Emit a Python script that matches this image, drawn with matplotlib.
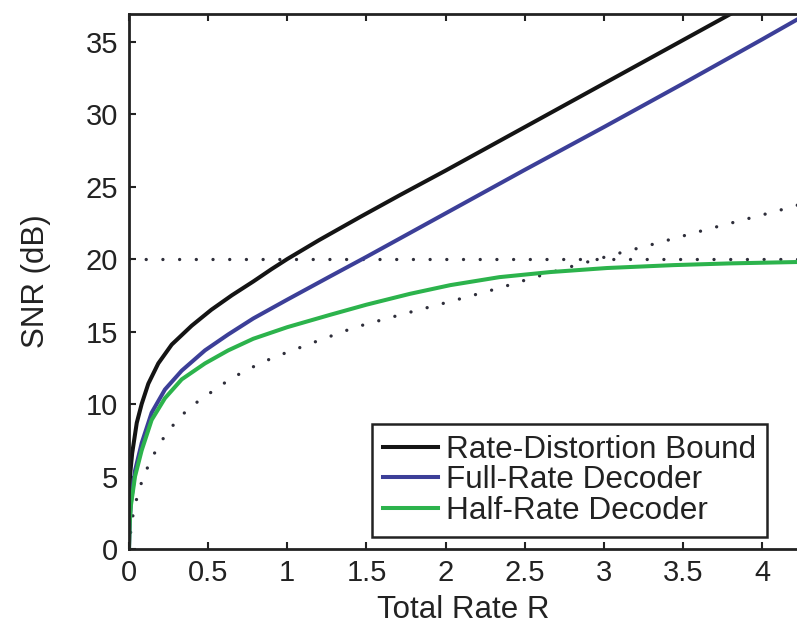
import numpy as np
import matplotlib.pyplot as plt

# values
R_bound = [0, 0.003, 0.006, 0.02, 0.049, 0.08, 0.122, 0.185, 0.27, 0.396, 0.52, 0.65,
           0.785, 0.9, 1.0, 1.2, 1.46, 1.71, 2.0, 2.5, 3.0, 3.5, 3.85]
snr_bound = [0, 3.2, 5.0, 6.6, 8.7, 10.0, 11.4, 12.8, 14.1, 15.4, 16.5, 17.5,
             18.45, 19.3, 20.0, 21.3, 22.9, 24.4, 26.1, 29.1, 32.1, 35.1, 37.2]

R_full = [0, 0.004, 0.012, 0.038, 0.08, 0.143, 0.227, 0.333, 0.48, 0.627, 0.785, 1.0,
          1.27, 1.5, 1.775, 2.0, 2.5, 3.0, 3.5, 4.0, 4.25]
snr_full = [0, 1.8, 3.2, 5.4, 7.3, 9.4, 11.0, 12.3, 13.7, 14.8, 15.9, 17.2,
            18.8, 20.15, 21.8, 23.15, 26.15, 29.1, 32.1, 35.15, 36.7]

R_half = [0, 0.004, 0.012, 0.038, 0.08, 0.143, 0.227, 0.333, 0.48, 0.627, 0.785, 1.0,
          1.27, 1.5, 1.775, 2.03, 2.34, 2.66, 3.02, 3.44, 3.8, 4.25]
snr_half = [0, 1.7, 3.0, 5.0, 6.8, 8.9, 10.4, 11.7, 12.8, 13.7, 14.5, 15.3,
            16.15, 16.85, 17.6, 18.2, 18.75, 19.1, 19.38, 19.58, 19.7, 19.8]

R_dot = [0, 0.017, 0.038, 0.063, 0.10, 0.143, 0.196, 0.253, 0.322, 0.40, 0.485, 0.575,
         0.66, 0.754, 0.838, 0.933, 1.034, 1.129, 1.43, 1.73, 2.04, 2.34, 2.55, 2.8,
         3.06, 3.27, 3.47, 3.67, 3.88, 4.09, 4.25]
snr_dot = [0, 1.9, 3.0, 4.1, 5.2, 6.25, 7.3, 8.2, 9.1, 9.9, 10.55, 11.25,
           11.85, 12.4, 12.85, 13.3, 13.7, 14.1, 15.3, 16.2, 17.1, 18.0, 18.7, 19.5,
           20.3, 20.9, 21.5, 22.1, 22.7, 23.3, 23.8]

snr_target = 20
labels = ['Rate-Distortion Bound', 'Full-Rate Decoder', 'Half-Rate Decoder']

plt.rcParams['font.family'] = ['Liberation Sans', 'DejaVu Sans']

fig = plt.figure(figsize=(7.97, 6.29), dpi=100)
ax = fig.add_axes([129/797, 80/629, 1 - 129/797, (549 - 14)/629])

dots = dict(color='#2e2e3a', lw=2.4, linestyle=(0, (0.01, 5.0)),
            dash_capstyle='round')
ax.axhline(snr_target, **dots)
ax.plot(R_dot, snr_dot, **dots)

ax.plot(R_bound, snr_bound, color='#141414', lw=2.9, label=labels[0])
ax.plot(R_full, snr_full, color='#3c3f98', lw=2.9, label=labels[1])
ax.plot(R_half, snr_half, color='#2cb34c', lw=2.9, label=labels[2])

ax.set_xlim(0, 4.22)
ax.set_ylim(0, 36.9)
ax.set_xticks(np.arange(0, 4.01, 0.5))
ax.set_xticklabels(['0', '0.5', '1', '1.5', '2', '2.5', '3', '3.5', '4'])
ax.set_yticks(np.arange(0, 36, 5))
ax.tick_params(direction='in', length=5, width=1.5, labelsize=21, top=True,
               right=False, colors='#222222', pad=7)
ax.tick_params(axis='y', pad=8)
for s in ['left', 'bottom', 'top']:
    ax.spines[s].set_linewidth(2.0)
    ax.spines[s].set_color('#222222')
ax.spines['right'].set_visible(False)

ax.set_xlabel('Total Rate R', fontsize=22.5, color='#222222', labelpad=6)
ax.set_ylabel('SNR (dB)', fontsize=22.5, color='#222222', labelpad=25)

leg = ax.legend(loc='lower right', bbox_to_anchor=(767/797, 92/629),
                bbox_transform=fig.transFigure, fontsize=22.7, frameon=True,
                fancybox=False, edgecolor='#222222', framealpha=1,
                handlelength=1.75, handletextpad=0.25, labelspacing=0.02,
                borderpad=0.35, borderaxespad=0)
leg.get_frame().set_linewidth(1.8)
for t in leg.get_texts():
    t.set_color('#222222')

fig.savefig('out.png', dpi=100)
